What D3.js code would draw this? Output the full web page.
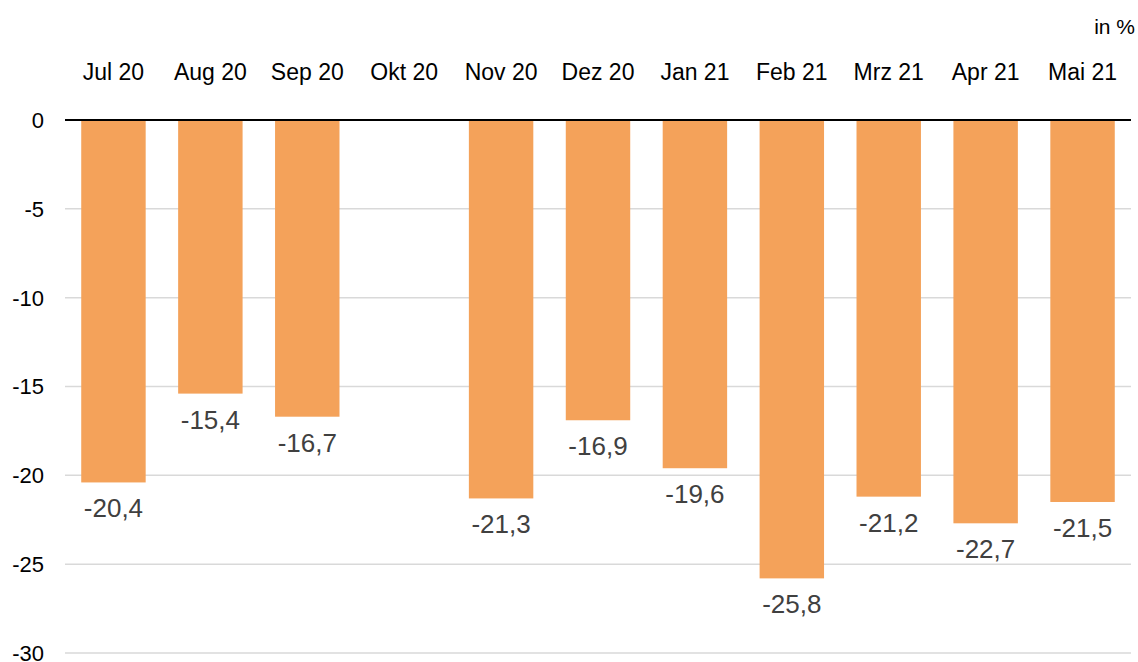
<!DOCTYPE html>
<html>
<head>
<meta charset="utf-8">
<script src="https://cdn.jsdelivr.net/npm/d3@7"></script>
<style>
  body { margin: 0; background: #fff; }
  svg text { font-family: "Liberation Sans", Arial, sans-serif; }
</style>
</head>
<body>
<div id="chart"></div>
<script>
// chart data
var months = ["Jul 20", "Aug 20", "Sep 20", "Okt 20", "Nov 20", "Dez 20", "Jan 21", "Feb 21", "Mrz 21", "Apr 21", "Mai 21"];
var values = [-20.4, -15.4, -16.7, null, -21.3, -16.9, -19.6, -25.8, -21.2, -22.7, -21.5];
var yTicks = [0, -5, -10, -15, -20, -25, -30];
var unitLabel = "in %";

var w = 1138;
var h = 662;
var plotLeft = 65, plotRight = 1131, plotTop = 120, plotBottom = 653;

var svg = d3.select("#chart")
  .append("svg")
  .attr("width", w)
  .attr("height", h);

var xScale = d3.scaleBand()
  .domain(months)
  .range([plotLeft, plotRight])
  .paddingInner(0.335)
  .paddingOuter(0.1675);

var yScale = d3.scaleLinear()
  .domain([-30, 0])
  .range([plotBottom, plotTop]);

// gridlines
svg.append("g")
  .selectAll("line")
  .data(yTicks.filter(function(d) { return d !== 0; }))
  .enter()
  .append("line")
  .attr("x1", plotLeft)
  .attr("x2", plotRight)
  .attr("y1", function(d) { return yScale(d); })
  .attr("y2", function(d) { return yScale(d); })
  .attr("stroke", "#d9d9d9")
  .attr("stroke-width", 1.5);

// y tick labels
svg.append("g")
  .selectAll("text")
  .data(yTicks)
  .enter()
  .append("text")
  .attr("x", 44)
  .attr("y", function(d) { return yScale(d); })
  .attr("dy", "0.36em")
  .attr("text-anchor", "end")
  .style("font-size", "22px")
  .attr("fill", "#000")
  .text(function(d) { return d; });

var data = months.map(function(m, i) { return { month: m, value: values[i] }; })
  .filter(function(d) { return d.value !== null; });

// bars
svg.selectAll("rect.bar")
  .data(data)
  .enter()
  .append("rect")
  .attr("class", "bar")
  .attr("x", function(d) { return xScale(d.month); })
  .attr("y", yScale(0))
  .attr("width", xScale.bandwidth())
  .attr("height", function(d) { return yScale(d.value) - yScale(0); })
  .attr("fill", "#f4a25a");

// zero line
svg.append("line")
  .attr("x1", plotLeft)
  .attr("x2", plotRight)
  .attr("y1", yScale(0))
  .attr("y2", yScale(0))
  .attr("stroke", "#000")
  .attr("stroke-width", 2);

// value labels
svg.selectAll("text.val")
  .data(data)
  .enter()
  .append("text")
  .attr("class", "val")
  .attr("x", function(d) { return xScale(d.month) + xScale.bandwidth() / 2; })
  .attr("y", function(d) { return yScale(d.value) + 35; })
  .attr("text-anchor", "middle")
  .style("font-size", "26px")
  .attr("fill", "#404040")
  .text(function(d) { return d3.format(".1f")(d.value).replace(".", ",").replace("−", "-"); });

// category labels on top
svg.append("g")
  .selectAll("text")
  .data(months)
  .enter()
  .append("text")
  .attr("x", function(d) { return xScale(d) + xScale.bandwidth() / 2; })
  .attr("y", 80)
  .attr("text-anchor", "middle")
  .style("font-size", "23px")
  .attr("fill", "#000")
  .text(function(d) { return d; });

// unit
svg.append("text")
  .attr("x", 1135)
  .attr("y", 34)
  .attr("text-anchor", "end")
  .style("font-size", "21px")
  .attr("fill", "#000")
  .text(unitLabel);
</script>
</body>
</html>
